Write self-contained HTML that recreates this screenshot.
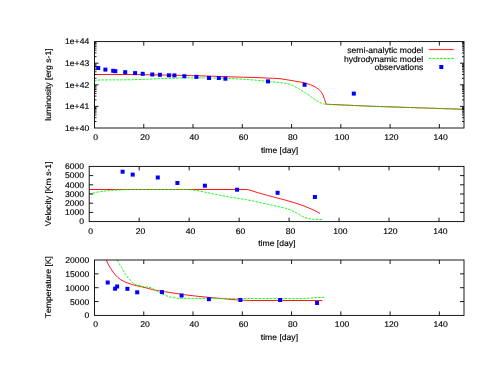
<!DOCTYPE html>
<html><head><meta charset="utf-8"><style>
html,body{margin:0;padding:0;background:#fff;}
svg{display:block;filter:blur(0.35px);}
text{font-family:"Liberation Sans",sans-serif;text-rendering:geometricPrecision;font-kerning:none;fill:#000;stroke:#000;stroke-width:0.15px;}
</style></head><body>
<svg width="491" height="379" viewBox="0 0 491 379">
<rect width="491" height="379" fill="#fff"/>
<path d="M94.50,74.50 L130.00,74.50 L150.00,74.80 L175.00,75.25 L200.00,75.80 L218.30,76.40 L236.70,77.00 L255.00,77.50 L273.30,78.30 L280.00,78.70 L292.20,80.60 L304.40,82.75 L310.60,84.80 L314.00,86.30 L316.70,87.90 L318.70,89.40 L320.30,90.90 L321.70,92.70 L322.80,94.60 L323.80,97.00 L324.60,99.50 L325.40,102.00 L326.20,104.20 L370.00,106.20 L464.00,109.30" fill="none" stroke="#ff0000" stroke-width="0.9" stroke-linejoin="round"/>
<path d="M94.50,81.60 L95.50,80.70 L97.00,80.20 L100.00,79.95 L110.00,79.90 L125.00,79.85 L138.00,79.60 L150.00,79.10 L168.30,78.30 L186.70,77.90 L200.00,77.80 L218.30,78.10 L236.70,78.80 L255.00,80.10 L267.80,81.40 L275.00,82.10 L280.00,82.70 L286.10,83.40 L289.00,84.10 L292.20,85.20 L295.00,86.60 L298.30,88.50 L304.40,92.20 L310.60,96.40 L316.70,100.70 L319.00,102.10 L321.50,103.20 L324.00,104.00 L326.20,104.40 L370.00,106.20 L464.00,109.30" fill="none" stroke="#00ff00" stroke-width="0.9" stroke-dasharray="2.5 1.23" stroke-linejoin="round"/>
<rect x="96.20" y="66.00" width="4.0" height="4.0" fill="#0000ff"/>
<rect x="103.40" y="67.60" width="4.0" height="4.0" fill="#0000ff"/>
<rect x="111.20" y="68.80" width="4.0" height="4.0" fill="#0000ff"/>
<rect x="113.30" y="69.20" width="4.0" height="4.0" fill="#0000ff"/>
<rect x="123.20" y="70.20" width="4.0" height="4.0" fill="#0000ff"/>
<rect x="133.10" y="71.10" width="4.0" height="4.0" fill="#0000ff"/>
<rect x="140.70" y="71.80" width="4.0" height="4.0" fill="#0000ff"/>
<rect x="150.30" y="72.50" width="4.0" height="4.0" fill="#0000ff"/>
<rect x="157.90" y="72.80" width="4.0" height="4.0" fill="#0000ff"/>
<rect x="166.90" y="73.30" width="4.0" height="4.0" fill="#0000ff"/>
<rect x="172.40" y="73.40" width="4.0" height="4.0" fill="#0000ff"/>
<rect x="182.40" y="74.20" width="4.0" height="4.0" fill="#0000ff"/>
<rect x="194.40" y="74.90" width="4.0" height="4.0" fill="#0000ff"/>
<rect x="207.00" y="76.00" width="4.0" height="4.0" fill="#0000ff"/>
<rect x="216.80" y="76.00" width="4.0" height="4.0" fill="#0000ff"/>
<rect x="223.40" y="76.70" width="4.0" height="4.0" fill="#0000ff"/>
<rect x="266.00" y="79.40" width="4.0" height="4.0" fill="#0000ff"/>
<rect x="302.60" y="82.80" width="4.0" height="4.0" fill="#0000ff"/>
<rect x="351.80" y="91.60" width="4.0" height="4.0" fill="#0000ff"/>
<rect x="94.50" y="41.60" width="369.50" height="86.40" fill="none" stroke="#000" stroke-width="0.9"/>
<text transform="translate(95.70 139.70) scale(1.035 1)" text-anchor="middle" font-size="8.3">0</text>
<line x1="143.77" y1="128.00" x2="143.77" y2="124.00" stroke="#000" stroke-width="0.9" />
<line x1="143.77" y1="41.60" x2="143.77" y2="45.60" stroke="#000" stroke-width="0.9" />
<text transform="translate(144.97 139.70) scale(1.035 1)" text-anchor="middle" font-size="8.3">20</text>
<line x1="193.03" y1="128.00" x2="193.03" y2="124.00" stroke="#000" stroke-width="0.9" />
<line x1="193.03" y1="41.60" x2="193.03" y2="45.60" stroke="#000" stroke-width="0.9" />
<text transform="translate(194.23 139.70) scale(1.035 1)" text-anchor="middle" font-size="8.3">40</text>
<line x1="242.30" y1="128.00" x2="242.30" y2="124.00" stroke="#000" stroke-width="0.9" />
<line x1="242.30" y1="41.60" x2="242.30" y2="45.60" stroke="#000" stroke-width="0.9" />
<text transform="translate(243.50 139.70) scale(1.035 1)" text-anchor="middle" font-size="8.3">60</text>
<line x1="291.57" y1="128.00" x2="291.57" y2="124.00" stroke="#000" stroke-width="0.9" />
<line x1="291.57" y1="41.60" x2="291.57" y2="45.60" stroke="#000" stroke-width="0.9" />
<text transform="translate(292.77 139.70) scale(1.035 1)" text-anchor="middle" font-size="8.3">80</text>
<line x1="340.83" y1="128.00" x2="340.83" y2="124.00" stroke="#000" stroke-width="0.9" />
<line x1="340.83" y1="41.60" x2="340.83" y2="45.60" stroke="#000" stroke-width="0.9" />
<text transform="translate(342.03 139.70) scale(1.035 1)" text-anchor="middle" font-size="8.3">100</text>
<line x1="390.10" y1="128.00" x2="390.10" y2="124.00" stroke="#000" stroke-width="0.9" />
<line x1="390.10" y1="41.60" x2="390.10" y2="45.60" stroke="#000" stroke-width="0.9" />
<text transform="translate(391.30 139.70) scale(1.035 1)" text-anchor="middle" font-size="8.3">120</text>
<line x1="439.37" y1="128.00" x2="439.37" y2="124.00" stroke="#000" stroke-width="0.9" />
<line x1="439.37" y1="41.60" x2="439.37" y2="45.60" stroke="#000" stroke-width="0.9" />
<text transform="translate(440.57 139.70) scale(1.035 1)" text-anchor="middle" font-size="8.3">140</text>
<text transform="translate(89.20 130.85) scale(1.035 1)" text-anchor="end" font-size="8.3">1e+40</text>
<line x1="94.50" y1="121.50" x2="96.50" y2="121.50" stroke="#000" stroke-width="0.9" />
<line x1="464.00" y1="121.50" x2="462.00" y2="121.50" stroke="#000" stroke-width="0.9" />
<line x1="94.50" y1="117.69" x2="96.50" y2="117.69" stroke="#000" stroke-width="0.9" />
<line x1="464.00" y1="117.69" x2="462.00" y2="117.69" stroke="#000" stroke-width="0.9" />
<line x1="94.50" y1="115.00" x2="96.50" y2="115.00" stroke="#000" stroke-width="0.9" />
<line x1="464.00" y1="115.00" x2="462.00" y2="115.00" stroke="#000" stroke-width="0.9" />
<line x1="94.50" y1="112.90" x2="96.50" y2="112.90" stroke="#000" stroke-width="0.9" />
<line x1="464.00" y1="112.90" x2="462.00" y2="112.90" stroke="#000" stroke-width="0.9" />
<line x1="94.50" y1="111.19" x2="96.50" y2="111.19" stroke="#000" stroke-width="0.9" />
<line x1="464.00" y1="111.19" x2="462.00" y2="111.19" stroke="#000" stroke-width="0.9" />
<line x1="94.50" y1="109.75" x2="96.50" y2="109.75" stroke="#000" stroke-width="0.9" />
<line x1="464.00" y1="109.75" x2="462.00" y2="109.75" stroke="#000" stroke-width="0.9" />
<line x1="94.50" y1="108.49" x2="96.50" y2="108.49" stroke="#000" stroke-width="0.9" />
<line x1="464.00" y1="108.49" x2="462.00" y2="108.49" stroke="#000" stroke-width="0.9" />
<line x1="94.50" y1="107.39" x2="96.50" y2="107.39" stroke="#000" stroke-width="0.9" />
<line x1="464.00" y1="107.39" x2="462.00" y2="107.39" stroke="#000" stroke-width="0.9" />
<line x1="94.50" y1="106.40" x2="98.50" y2="106.40" stroke="#000" stroke-width="0.9" />
<line x1="464.00" y1="106.40" x2="460.00" y2="106.40" stroke="#000" stroke-width="0.9" />
<text transform="translate(89.20 109.25) scale(1.035 1)" text-anchor="end" font-size="8.3">1e+41</text>
<line x1="94.50" y1="99.90" x2="96.50" y2="99.90" stroke="#000" stroke-width="0.9" />
<line x1="464.00" y1="99.90" x2="462.00" y2="99.90" stroke="#000" stroke-width="0.9" />
<line x1="94.50" y1="96.09" x2="96.50" y2="96.09" stroke="#000" stroke-width="0.9" />
<line x1="464.00" y1="96.09" x2="462.00" y2="96.09" stroke="#000" stroke-width="0.9" />
<line x1="94.50" y1="93.40" x2="96.50" y2="93.40" stroke="#000" stroke-width="0.9" />
<line x1="464.00" y1="93.40" x2="462.00" y2="93.40" stroke="#000" stroke-width="0.9" />
<line x1="94.50" y1="91.30" x2="96.50" y2="91.30" stroke="#000" stroke-width="0.9" />
<line x1="464.00" y1="91.30" x2="462.00" y2="91.30" stroke="#000" stroke-width="0.9" />
<line x1="94.50" y1="89.59" x2="96.50" y2="89.59" stroke="#000" stroke-width="0.9" />
<line x1="464.00" y1="89.59" x2="462.00" y2="89.59" stroke="#000" stroke-width="0.9" />
<line x1="94.50" y1="88.15" x2="96.50" y2="88.15" stroke="#000" stroke-width="0.9" />
<line x1="464.00" y1="88.15" x2="462.00" y2="88.15" stroke="#000" stroke-width="0.9" />
<line x1="94.50" y1="86.89" x2="96.50" y2="86.89" stroke="#000" stroke-width="0.9" />
<line x1="464.00" y1="86.89" x2="462.00" y2="86.89" stroke="#000" stroke-width="0.9" />
<line x1="94.50" y1="85.79" x2="96.50" y2="85.79" stroke="#000" stroke-width="0.9" />
<line x1="464.00" y1="85.79" x2="462.00" y2="85.79" stroke="#000" stroke-width="0.9" />
<line x1="94.50" y1="84.80" x2="98.50" y2="84.80" stroke="#000" stroke-width="0.9" />
<line x1="464.00" y1="84.80" x2="460.00" y2="84.80" stroke="#000" stroke-width="0.9" />
<text transform="translate(89.20 87.65) scale(1.035 1)" text-anchor="end" font-size="8.3">1e+42</text>
<line x1="94.50" y1="78.30" x2="96.50" y2="78.30" stroke="#000" stroke-width="0.9" />
<line x1="464.00" y1="78.30" x2="462.00" y2="78.30" stroke="#000" stroke-width="0.9" />
<line x1="94.50" y1="74.49" x2="96.50" y2="74.49" stroke="#000" stroke-width="0.9" />
<line x1="464.00" y1="74.49" x2="462.00" y2="74.49" stroke="#000" stroke-width="0.9" />
<line x1="94.50" y1="71.80" x2="96.50" y2="71.80" stroke="#000" stroke-width="0.9" />
<line x1="464.00" y1="71.80" x2="462.00" y2="71.80" stroke="#000" stroke-width="0.9" />
<line x1="94.50" y1="69.70" x2="96.50" y2="69.70" stroke="#000" stroke-width="0.9" />
<line x1="464.00" y1="69.70" x2="462.00" y2="69.70" stroke="#000" stroke-width="0.9" />
<line x1="94.50" y1="67.99" x2="96.50" y2="67.99" stroke="#000" stroke-width="0.9" />
<line x1="464.00" y1="67.99" x2="462.00" y2="67.99" stroke="#000" stroke-width="0.9" />
<line x1="94.50" y1="66.55" x2="96.50" y2="66.55" stroke="#000" stroke-width="0.9" />
<line x1="464.00" y1="66.55" x2="462.00" y2="66.55" stroke="#000" stroke-width="0.9" />
<line x1="94.50" y1="65.29" x2="96.50" y2="65.29" stroke="#000" stroke-width="0.9" />
<line x1="464.00" y1="65.29" x2="462.00" y2="65.29" stroke="#000" stroke-width="0.9" />
<line x1="94.50" y1="64.19" x2="96.50" y2="64.19" stroke="#000" stroke-width="0.9" />
<line x1="464.00" y1="64.19" x2="462.00" y2="64.19" stroke="#000" stroke-width="0.9" />
<line x1="94.50" y1="63.20" x2="98.50" y2="63.20" stroke="#000" stroke-width="0.9" />
<line x1="464.00" y1="63.20" x2="460.00" y2="63.20" stroke="#000" stroke-width="0.9" />
<text transform="translate(89.20 66.05) scale(1.035 1)" text-anchor="end" font-size="8.3">1e+43</text>
<line x1="94.50" y1="56.70" x2="96.50" y2="56.70" stroke="#000" stroke-width="0.9" />
<line x1="464.00" y1="56.70" x2="462.00" y2="56.70" stroke="#000" stroke-width="0.9" />
<line x1="94.50" y1="52.89" x2="96.50" y2="52.89" stroke="#000" stroke-width="0.9" />
<line x1="464.00" y1="52.89" x2="462.00" y2="52.89" stroke="#000" stroke-width="0.9" />
<line x1="94.50" y1="50.20" x2="96.50" y2="50.20" stroke="#000" stroke-width="0.9" />
<line x1="464.00" y1="50.20" x2="462.00" y2="50.20" stroke="#000" stroke-width="0.9" />
<line x1="94.50" y1="48.10" x2="96.50" y2="48.10" stroke="#000" stroke-width="0.9" />
<line x1="464.00" y1="48.10" x2="462.00" y2="48.10" stroke="#000" stroke-width="0.9" />
<line x1="94.50" y1="46.39" x2="96.50" y2="46.39" stroke="#000" stroke-width="0.9" />
<line x1="464.00" y1="46.39" x2="462.00" y2="46.39" stroke="#000" stroke-width="0.9" />
<line x1="94.50" y1="44.95" x2="96.50" y2="44.95" stroke="#000" stroke-width="0.9" />
<line x1="464.00" y1="44.95" x2="462.00" y2="44.95" stroke="#000" stroke-width="0.9" />
<line x1="94.50" y1="43.69" x2="96.50" y2="43.69" stroke="#000" stroke-width="0.9" />
<line x1="464.00" y1="43.69" x2="462.00" y2="43.69" stroke="#000" stroke-width="0.9" />
<line x1="94.50" y1="42.59" x2="96.50" y2="42.59" stroke="#000" stroke-width="0.9" />
<line x1="464.00" y1="42.59" x2="462.00" y2="42.59" stroke="#000" stroke-width="0.9" />
<text transform="translate(89.20 44.45) scale(1.035 1)" text-anchor="end" font-size="8.3">1e+44</text>
<text transform="translate(279.60 152.55) scale(1.035 1)" text-anchor="middle" font-size="8.3">time [day]</text>
<text transform="translate(51.30 84.50) rotate(-90) scale(1 0.95)" text-anchor="middle" font-size="8.65">luminosity [erg s-1]</text>
<text transform="translate(423.20 52.80) scale(1.035 1)" text-anchor="end" font-size="8.3">semi-analytic model</text>
<text transform="translate(423.20 61.80) scale(1.035 1)" text-anchor="end" font-size="8.3">hydrodynamic model</text>
<text transform="translate(423.20 70.30) scale(1.035 1)" text-anchor="end" font-size="8.3">observations</text>
<line x1="428.80" y1="49.60" x2="453.80" y2="49.60" stroke="#ff0000" stroke-width="0.9" />
<line x1="428.80" y1="58.40" x2="453.80" y2="58.40" stroke="#00ff00" stroke-width="1" stroke-dasharray="2.5 1.23"/>
<rect x="439.30" y="65.00" width="4.0" height="4.0" fill="#0000ff"/>
<path d="M89.20,189.50 L247.30,189.50 L248.30,189.70 L258.30,192.80 L267.50,195.40 L276.70,197.80 L285.80,200.20 L295.00,202.90 L304.10,206.00 L313.30,209.90 L320.10,213.50" fill="none" stroke="#ff0000" stroke-width="0.9" stroke-linejoin="round"/>
<path d="M89.20,194.00 L95.00,192.60 L100.00,191.70 L105.00,191.00 L110.00,190.50 L116.00,190.10 L122.00,189.80 L130.00,189.60 L140.00,189.50 L187.00,189.50 L190.00,189.70 L196.30,190.40 L204.40,192.00 L212.60,193.80 L220.70,195.40 L228.90,196.90 L237.00,198.20 L245.20,199.50 L253.30,201.00 L258.30,202.20 L267.50,204.20 L276.70,206.20 L285.80,208.40 L291.30,210.20 L296.80,213.00 L302.30,216.30 L307.80,218.50 L313.30,219.40 L323.40,219.40" fill="none" stroke="#00ff00" stroke-width="0.9" stroke-dasharray="2.5 1.23" stroke-linejoin="round"/>
<rect x="120.60" y="169.70" width="4.0" height="4.0" fill="#0000ff"/>
<rect x="130.70" y="172.60" width="4.0" height="4.0" fill="#0000ff"/>
<rect x="155.80" y="175.50" width="4.0" height="4.0" fill="#0000ff"/>
<rect x="175.40" y="181.00" width="4.0" height="4.0" fill="#0000ff"/>
<rect x="202.90" y="183.70" width="4.0" height="4.0" fill="#0000ff"/>
<rect x="235.10" y="187.70" width="4.0" height="4.0" fill="#0000ff"/>
<rect x="275.60" y="190.80" width="4.0" height="4.0" fill="#0000ff"/>
<rect x="312.90" y="195.00" width="4.0" height="4.0" fill="#0000ff"/>
<rect x="89.20" y="166.40" width="374.80" height="55.20" fill="none" stroke="#000" stroke-width="0.9"/>
<text transform="translate(90.60 233.70) scale(1.035 1)" text-anchor="middle" font-size="8.3">0</text>
<line x1="139.17" y1="221.60" x2="139.17" y2="217.60" stroke="#000" stroke-width="0.9" />
<line x1="139.17" y1="166.40" x2="139.17" y2="170.40" stroke="#000" stroke-width="0.9" />
<text transform="translate(140.57 233.70) scale(1.035 1)" text-anchor="middle" font-size="8.3">20</text>
<line x1="189.15" y1="221.60" x2="189.15" y2="217.60" stroke="#000" stroke-width="0.9" />
<line x1="189.15" y1="166.40" x2="189.15" y2="170.40" stroke="#000" stroke-width="0.9" />
<text transform="translate(190.55 233.70) scale(1.035 1)" text-anchor="middle" font-size="8.3">40</text>
<line x1="239.12" y1="221.60" x2="239.12" y2="217.60" stroke="#000" stroke-width="0.9" />
<line x1="239.12" y1="166.40" x2="239.12" y2="170.40" stroke="#000" stroke-width="0.9" />
<text transform="translate(240.52 233.70) scale(1.035 1)" text-anchor="middle" font-size="8.3">60</text>
<line x1="289.09" y1="221.60" x2="289.09" y2="217.60" stroke="#000" stroke-width="0.9" />
<line x1="289.09" y1="166.40" x2="289.09" y2="170.40" stroke="#000" stroke-width="0.9" />
<text transform="translate(290.49 233.70) scale(1.035 1)" text-anchor="middle" font-size="8.3">80</text>
<line x1="339.07" y1="221.60" x2="339.07" y2="217.60" stroke="#000" stroke-width="0.9" />
<line x1="339.07" y1="166.40" x2="339.07" y2="170.40" stroke="#000" stroke-width="0.9" />
<text transform="translate(340.47 233.70) scale(1.035 1)" text-anchor="middle" font-size="8.3">100</text>
<line x1="389.04" y1="221.60" x2="389.04" y2="217.60" stroke="#000" stroke-width="0.9" />
<line x1="389.04" y1="166.40" x2="389.04" y2="170.40" stroke="#000" stroke-width="0.9" />
<text transform="translate(390.44 233.70) scale(1.035 1)" text-anchor="middle" font-size="8.3">120</text>
<line x1="439.01" y1="221.60" x2="439.01" y2="217.60" stroke="#000" stroke-width="0.9" />
<line x1="439.01" y1="166.40" x2="439.01" y2="170.40" stroke="#000" stroke-width="0.9" />
<text transform="translate(440.41 233.70) scale(1.035 1)" text-anchor="middle" font-size="8.3">140</text>
<text transform="translate(84.00 224.30) scale(1.035 1)" text-anchor="end" font-size="8.3">0</text>
<line x1="89.20" y1="212.40" x2="93.20" y2="212.40" stroke="#000" stroke-width="0.9" />
<line x1="464.00" y1="212.40" x2="460.00" y2="212.40" stroke="#000" stroke-width="0.9" />
<text transform="translate(84.00 215.10) scale(1.035 1)" text-anchor="end" font-size="8.3">1000</text>
<line x1="89.20" y1="203.20" x2="93.20" y2="203.20" stroke="#000" stroke-width="0.9" />
<line x1="464.00" y1="203.20" x2="460.00" y2="203.20" stroke="#000" stroke-width="0.9" />
<text transform="translate(84.00 205.90) scale(1.035 1)" text-anchor="end" font-size="8.3">2000</text>
<line x1="89.20" y1="194.00" x2="93.20" y2="194.00" stroke="#000" stroke-width="0.9" />
<line x1="464.00" y1="194.00" x2="460.00" y2="194.00" stroke="#000" stroke-width="0.9" />
<text transform="translate(84.00 196.70) scale(1.035 1)" text-anchor="end" font-size="8.3">3000</text>
<line x1="89.20" y1="184.80" x2="93.20" y2="184.80" stroke="#000" stroke-width="0.9" />
<line x1="464.00" y1="184.80" x2="460.00" y2="184.80" stroke="#000" stroke-width="0.9" />
<text transform="translate(84.00 187.50) scale(1.035 1)" text-anchor="end" font-size="8.3">4000</text>
<line x1="89.20" y1="175.60" x2="93.20" y2="175.60" stroke="#000" stroke-width="0.9" />
<line x1="464.00" y1="175.60" x2="460.00" y2="175.60" stroke="#000" stroke-width="0.9" />
<text transform="translate(84.00 178.30) scale(1.035 1)" text-anchor="end" font-size="8.3">5000</text>
<text transform="translate(84.00 169.10) scale(1.035 1)" text-anchor="end" font-size="8.3">6000</text>
<text transform="translate(276.80 246.30) scale(1.035 1)" text-anchor="middle" font-size="8.3">time [day]</text>
<text transform="translate(51.30 193.80) rotate(-90) scale(1 0.95)" text-anchor="middle" font-size="8.65">Velocity [Km s-1]</text>
<path d="M106.30,260.00 L108.20,264.20 L110.70,268.40 L113.10,272.10 L115.60,275.20 L118.00,277.60 L120.40,279.40 L124.10,281.50 L127.80,283.10 L132.70,284.70 L137.50,285.90 L142.40,287.00 L147.30,288.20 L152.20,289.50 L156.20,290.40 L169.40,292.40 L182.70,294.50 L195.90,296.10 L209.10,297.40 L223.20,298.70 L236.50,299.90 L249.70,300.50 L322.30,300.50" fill="none" stroke="#ff0000" stroke-width="0.9" stroke-linejoin="round"/>
<path d="M117.30,260.00 L119.20,263.60 L121.70,267.80 L124.10,272.10 L126.60,275.80 L129.00,278.80 L131.40,281.60 L133.90,283.70 L136.30,284.70 L140.00,285.80 L144.90,286.80 L148.50,287.30 L152.20,288.20 L154.90,289.70 L161.50,293.70 L169.40,296.90 L177.40,298.30 L195.90,298.40 L236.50,298.50 L302.70,298.60 L310.60,298.00 L325.50,297.30" fill="none" stroke="#00ff00" stroke-width="0.9" stroke-dasharray="2.5 1.23" stroke-linejoin="round"/>
<rect x="105.70" y="280.50" width="4.0" height="4.0" fill="#0000ff"/>
<rect x="113.10" y="286.70" width="4.0" height="4.0" fill="#0000ff"/>
<rect x="115.10" y="284.50" width="4.0" height="4.0" fill="#0000ff"/>
<rect x="125.40" y="286.80" width="4.0" height="4.0" fill="#0000ff"/>
<rect x="135.20" y="290.30" width="4.0" height="4.0" fill="#0000ff"/>
<rect x="160.00" y="290.10" width="4.0" height="4.0" fill="#0000ff"/>
<rect x="179.60" y="293.50" width="4.0" height="4.0" fill="#0000ff"/>
<rect x="206.90" y="297.20" width="4.0" height="4.0" fill="#0000ff"/>
<rect x="238.40" y="298.00" width="4.0" height="4.0" fill="#0000ff"/>
<rect x="278.10" y="298.00" width="4.0" height="4.0" fill="#0000ff"/>
<rect x="315.05" y="301.00" width="4.0" height="4.0" fill="#0000ff"/>
<rect x="94.50" y="260.00" width="369.50" height="55.40" fill="none" stroke="#000" stroke-width="0.9"/>
<text transform="translate(95.70 327.10) scale(1.035 1)" text-anchor="middle" font-size="8.3">0</text>
<line x1="143.77" y1="315.40" x2="143.77" y2="311.40" stroke="#000" stroke-width="0.9" />
<line x1="143.77" y1="260.00" x2="143.77" y2="264.00" stroke="#000" stroke-width="0.9" />
<text transform="translate(144.97 327.10) scale(1.035 1)" text-anchor="middle" font-size="8.3">20</text>
<line x1="193.03" y1="315.40" x2="193.03" y2="311.40" stroke="#000" stroke-width="0.9" />
<line x1="193.03" y1="260.00" x2="193.03" y2="264.00" stroke="#000" stroke-width="0.9" />
<text transform="translate(194.23 327.10) scale(1.035 1)" text-anchor="middle" font-size="8.3">40</text>
<line x1="242.30" y1="315.40" x2="242.30" y2="311.40" stroke="#000" stroke-width="0.9" />
<line x1="242.30" y1="260.00" x2="242.30" y2="264.00" stroke="#000" stroke-width="0.9" />
<text transform="translate(243.50 327.10) scale(1.035 1)" text-anchor="middle" font-size="8.3">60</text>
<line x1="291.57" y1="315.40" x2="291.57" y2="311.40" stroke="#000" stroke-width="0.9" />
<line x1="291.57" y1="260.00" x2="291.57" y2="264.00" stroke="#000" stroke-width="0.9" />
<text transform="translate(292.77 327.10) scale(1.035 1)" text-anchor="middle" font-size="8.3">80</text>
<line x1="340.83" y1="315.40" x2="340.83" y2="311.40" stroke="#000" stroke-width="0.9" />
<line x1="340.83" y1="260.00" x2="340.83" y2="264.00" stroke="#000" stroke-width="0.9" />
<text transform="translate(342.03 327.10) scale(1.035 1)" text-anchor="middle" font-size="8.3">100</text>
<line x1="390.10" y1="315.40" x2="390.10" y2="311.40" stroke="#000" stroke-width="0.9" />
<line x1="390.10" y1="260.00" x2="390.10" y2="264.00" stroke="#000" stroke-width="0.9" />
<text transform="translate(391.30 327.10) scale(1.035 1)" text-anchor="middle" font-size="8.3">120</text>
<line x1="439.37" y1="315.40" x2="439.37" y2="311.40" stroke="#000" stroke-width="0.9" />
<line x1="439.37" y1="260.00" x2="439.37" y2="264.00" stroke="#000" stroke-width="0.9" />
<text transform="translate(440.57 327.10) scale(1.035 1)" text-anchor="middle" font-size="8.3">140</text>
<text transform="translate(89.20 318.40) scale(1.035 1)" text-anchor="end" font-size="8.3">0</text>
<line x1="94.50" y1="301.55" x2="98.50" y2="301.55" stroke="#000" stroke-width="0.9" />
<line x1="464.00" y1="301.55" x2="460.00" y2="301.55" stroke="#000" stroke-width="0.9" />
<text transform="translate(89.20 304.55) scale(1.035 1)" text-anchor="end" font-size="8.3">5000</text>
<line x1="94.50" y1="287.70" x2="98.50" y2="287.70" stroke="#000" stroke-width="0.9" />
<line x1="464.00" y1="287.70" x2="460.00" y2="287.70" stroke="#000" stroke-width="0.9" />
<text transform="translate(89.20 290.70) scale(1.035 1)" text-anchor="end" font-size="8.3">10000</text>
<line x1="94.50" y1="273.85" x2="98.50" y2="273.85" stroke="#000" stroke-width="0.9" />
<line x1="464.00" y1="273.85" x2="460.00" y2="273.85" stroke="#000" stroke-width="0.9" />
<text transform="translate(89.20 276.85) scale(1.035 1)" text-anchor="end" font-size="8.3">15000</text>
<text transform="translate(89.20 263.00) scale(1.035 1)" text-anchor="end" font-size="8.3">20000</text>
<text transform="translate(279.40 339.80) scale(1.035 1)" text-anchor="middle" font-size="8.3">time [day]</text>
<text transform="translate(51.30 287.20) rotate(-90) scale(1 0.95)" text-anchor="middle" font-size="8.65">Temperature [K]</text>
</svg></body></html>
